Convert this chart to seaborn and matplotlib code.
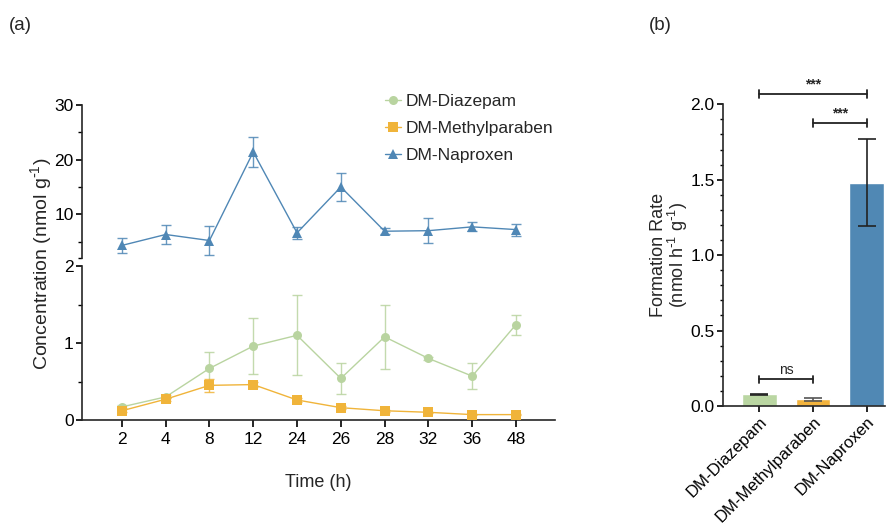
import numpy as np
import pandas as pd
import matplotlib.pyplot as plt
import seaborn as sns
from matplotlib.ticker import FixedLocator

# ---- data ----
time_labels = ["2", "4", "8", "12", "24", "26", "28", "32", "36", "48"]

diazepam_mean = [0.17, 0.30, 0.67, 0.96, 1.10, 0.54, 1.08, 0.80, 0.57, 1.24]
diazepam_sd = [0.02, 0.02, 0.21, 0.36, 0.52, 0.20, 0.42, 0.02, 0.17, 0.13]

methyl_mean = [0.12, 0.27, 0.45, 0.46, 0.26, 0.16, 0.12, 0.10, 0.07, 0.07]
methyl_sd = [0.02, 0.02, 0.08, 0.03, 0.02, 0.02, 0.01, 0.01, 0.01, 0.01]

naproxen_mean = [4.3, 6.3, 5.2, 21.4, 6.6, 15.0, 6.9, 7.0, 7.7, 7.2]
naproxen_sd = [1.4, 1.8, 2.7, 2.8, 1.1, 2.5, 0.5, 2.3, 0.8, 1.1]

compounds = ["DM-Diazepam", "DM-Methylparaben", "DM-Naproxen"]
rate_mean = [0.078, 0.045, 1.48]
rate_sd = [0.003, 0.01, 0.29]
rate_err_colors = ["#222222", "#555555", "#222222"]

colors = {"DM-Diazepam": "#b9d4a0", "DM-Methylparaben": "#f0b43a", "DM-Naproxen": "#4f87b5"}
bar_colors = {"DM-Diazepam": "#bad6a2", "DM-Methylparaben": "#f2b33d", "DM-Naproxen": "#5088b4"}

sns.set_theme(style="ticks")
plt.rcParams["font.family"] = ["Liberation Sans", "DejaVu Sans"]
plt.rcParams["mathtext.default"] = "regular"
plt.rcParams["axes.linewidth"] = 1.2
plt.rcParams["xtick.major.width"] = 1.2
plt.rcParams["ytick.major.width"] = 1.2
plt.rcParams["ytick.minor.width"] = 1.0
plt.rcParams["xtick.color"] = "black"
plt.rcParams["ytick.color"] = "black"

fig = plt.figure(figsize=(8.94, 5.25), dpi=100)
W, H = 894, 525

def px_axes(left, top, right, bottom):
    return fig.add_axes([left / W, 1 - bottom / H, (right - left) / W, (bottom - top) / H])

ax_top = px_axes(82, 105, 555, 258)
ax_low = px_axes(82, 266, 555, 420)
ax_bar = px_axes(723, 104.3, 885, 406)

x = np.arange(len(time_labels))
series = [
    ("DM-Diazepam", diazepam_mean, diazepam_sd, "o", ax_low),
    ("DM-Methylparaben", methyl_mean, methyl_sd, "s", ax_low),
    ("DM-Naproxen", naproxen_mean, naproxen_sd, "^", ax_top),
]

for name, mean, sd, marker, ax in series:
    df = pd.DataFrame({"x": x, "y": mean})
    ax.errorbar(df["x"], df["y"], yerr=sd, fmt="none", ecolor=colors[name],
                elinewidth=1.0, capsize=3.5, capthick=1.0, alpha=0.85, zorder=2)
    sns.lineplot(data=df, x="x", y="y", ax=ax, color=colors[name], marker=marker,
                 markersize=6.5, markeredgewidth=0, linewidth=1.0, label=name, zorder=3)

for ax in (ax_top, ax_low):
    ax.set_xlim(-0.91, 9.89)
    ax.spines["top"].set_visible(False)
    ax.spines["right"].set_visible(False)
    ax.set_xlabel("")
    ax.set_ylabel("")
    ax.tick_params(axis="y", labelsize=12.5, length=4, pad=2)
    ax.tick_params(axis="y", which="minor", length=3)
    if ax.get_legend():
        ax.get_legend().remove()

ax_top.set_ylim(2, 30)
ax_top.set_yticks([10, 20, 30])
ax_top.yaxis.set_minor_locator(FixedLocator([2, 5, 15, 25]))
ax_top.spines["bottom"].set_visible(False)
ax_top.tick_params(axis="x", bottom=False, labelbottom=False)

ax_low.set_ylim(0, 2)
ax_low.set_yticks([0, 1, 2])
ax_low.set_yticklabels(["0", "1", "2"])
ax_low.yaxis.set_minor_locator(FixedLocator([0.5, 1.5]))
ax_low.set_xticks(x)
ax_low.set_xticklabels(time_labels)
ax_low.tick_params(axis="x", labelsize=12.5, length=5, pad=4)
ax_low.set_xlabel("Time (h)", fontsize=13, labelpad=19)

fig.text(41 / W, 1 - 264 / H, r"Concentration (nmol g$^{\text{-}1}$)", rotation=90,
         ha="center", va="center", fontsize=14)

handles, labels = [], []
for ax in (ax_low, ax_top):
    h, l = ax.get_legend_handles_labels()
    handles += h
    labels += l
fig.legend(handles, labels, loc="upper left", bbox_to_anchor=(378 / W, 1 - 87 / H),
           frameon=False, fontsize=12.5, handlelength=0.9, handletextpad=0.3,
           labelspacing=0.68, borderaxespad=0)

# ---- panel (b) ----
bar_df = pd.DataFrame({"compound": compounds, "rate": rate_mean})
sns.barplot(data=bar_df, x="compound", y="rate", hue="compound", palette=bar_colors,
            width=0.65, ax=ax_bar, legend=False, errorbar=None, saturation=1)
for i in range(len(compounds)):
    ax_bar.errorbar([i], [rate_mean[i]], yerr=[rate_sd[i]], fmt="none",
                    ecolor=rate_err_colors[i], elinewidth=1.2,
                    capsize=6.5, capthick=1.2, zorder=3)
ax_bar.set_xlim(-0.676, 2.34)
ax_bar.set_ylim(0, 2.0)
ax_bar.set_yticks([0, 0.5, 1.0, 1.5, 2.0])
ax_bar.set_yticklabels(["0.0", "0.5", "1.0", "1.5", "2.0"])
ax_bar.yaxis.set_minor_locator(FixedLocator(np.round(np.arange(0, 2.01, 0.1), 2)))
ax_bar.spines["top"].set_visible(False)
ax_bar.spines["right"].set_visible(False)
ax_bar.tick_params(axis="y", labelsize=12.5, length=4, pad=2)
ax_bar.tick_params(axis="y", which="minor", length=2.5)
ax_bar.tick_params(axis="x", labelsize=12, length=4, pad=2)
for lab in ax_bar.get_xticklabels():
    lab.set_rotation(45)
    lab.set_ha("right")
    lab.set_rotation_mode("anchor")
ax_bar.set_xlabel("")
ax_bar.set_ylabel("Formation Rate\n" + r"(nmol h$^{\text{-}1}$ g$^{\text{-}1}$)", fontsize=13,
                  labelpad=0, linespacing=0.95)

# significance brackets
brackets = [(0, 2, 2.07, "***"), (1, 2, 1.875, "***"), (0, 1, 0.177, "ns")]
for x0, x1, yb, txt in brackets:
    ax_bar.plot([x0, x1], [yb, yb], color="#222222", lw=1.3, clip_on=False)
    for xe in (x0, x1):
        ax_bar.plot([xe, xe], [yb - 0.025, yb + 0.025], color="#222222", lw=1.3,
                    clip_on=False)
    ax_bar.text((x0 + x1) / 2, yb + 0.015, txt, ha="center", va="bottom",
                fontsize=10, fontweight="bold" if txt == "***" else "normal",
                clip_on=False)

fig.text(20 / W, 1 - 25 / H, "(a)", ha="center", va="center", fontsize=13.5)
fig.text(660 / W, 1 - 25 / H, "(b)", ha="center", va="center", fontsize=13.5)

fig.savefig("out.png", dpi=100)
